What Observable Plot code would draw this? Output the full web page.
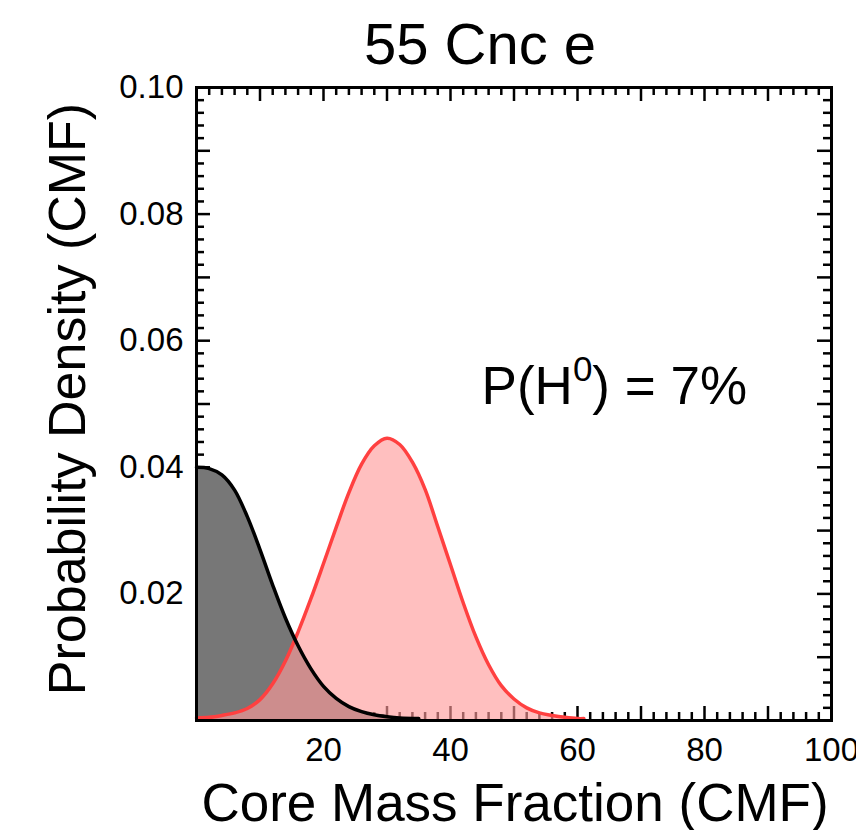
<!DOCTYPE html>
<html>
<head>
<meta charset="utf-8">
<script src="https://cdn.jsdelivr.net/npm/d3@7"></script>
<script src="https://cdn.jsdelivr.net/npm/@observablehq/plot@0.6"></script>
<style>
  html, body { margin: 0; padding: 0; background: #fff; }
  svg { display: block; }
</style>
</head>
<body>
<div id="chart"></div>
<script>
// ---- data ----
const title = "55 Cnc e";
const xLabel = "Core Mass Fraction (CMF)";
const yLabel = "Probability Density (CMF)";
const annotParts = ["P(H", "0", ") = 7%"];
const annotX = 44.9;
const annotY = 0.050;

// black curve (null hypothesis, half-normal-like)
const blackX = [0, 2, 4, 6, 8, 10, 12, 14, 16, 18, 20, 22, 24, 26, 28, 30, 32, 35];
const blackY = [0.0400, 0.0398, 0.0388, 0.0364, 0.0322, 0.0270, 0.0214, 0.0162, 0.0118, 0.0082,
                0.0054, 0.0035, 0.0022, 0.0014, 0.0009, 0.0006, 0.0004, 0.0003];

// red curve (measured CMF distribution)
const redX = [0, 2, 4, 6, 8, 10, 12, 14, 16, 18, 20, 22, 24, 26, 28, 30, 32, 34, 36, 38,
              40, 42, 44, 46, 48, 50, 52, 54, 56, 58, 60, 61];
const redY = [0.0004, 0.0005, 0.0008, 0.0012, 0.0019, 0.0033, 0.0058, 0.0094, 0.0140, 0.0192,
              0.0248, 0.0305, 0.0360, 0.0405, 0.0434, 0.0446, 0.0436, 0.0408, 0.0365, 0.0306,
              0.0246, 0.0186, 0.0132, 0.0088, 0.0055, 0.0034, 0.0020, 0.0012, 0.0008, 0.0005,
              0.0003, 0.0003];

const xTickLabels = [20, 40, 60, 80, 100];
const yTickLabels = [0.02, 0.04, 0.06, 0.08, 0.10];

// ---- build ----
const black = blackX.map((x, i) => ({x, y: blackY[i]}));
const red = redX.map((x, i) => ({x, y: redY[i]}));

const W = 856, H = 830;
const mL = 196, mR = 25, mT = 87, mB = 110;
const plotW = W - mL - mR, plotH = H - mT - mB;

const xMajor = d3.range(0, 100.001, 10);
const xMinor = d3.range(0, 100.001, 2).filter(v => v % 10 !== 0);
const yMajor = d3.range(0, 10.001, 1).map(v => v / 100);
const yMinor = d3.range(0, 50.001, 1).filter(v => v % 5 !== 0).map(v => v / 500);

const majorLen = 14, minorLen = 8, tickW = 2.5;
const font = "'Liberation Sans', Arial, Helvetica, sans-serif";

const svg = Plot.plot({
  width: W,
  height: H,
  marginLeft: mL, marginRight: mR, marginTop: mT, marginBottom: mB,
  style: {fontFamily: font, background: "#fff", color: "#000"},
  x: {domain: [0, 100]},
  y: {domain: [0, 0.1]},
  marks: [
    // inward ticks on all four sides
    Plot.tickX(xMajor, {x: d => d, insetTop: plotH - majorLen, stroke: "#000", strokeWidth: tickW}),
    Plot.tickX(xMajor, {x: d => d, insetBottom: plotH - majorLen, stroke: "#000", strokeWidth: tickW}),
    Plot.tickX(xMinor, {x: d => d, insetTop: plotH - minorLen, stroke: "#000", strokeWidth: tickW}),
    Plot.tickX(xMinor, {x: d => d, insetBottom: plotH - minorLen, stroke: "#000", strokeWidth: tickW}),
    Plot.tickY(yMajor, {y: d => d, insetRight: plotW - majorLen, stroke: "#000", strokeWidth: tickW}),
    Plot.tickY(yMajor, {y: d => d, insetLeft: plotW - majorLen, stroke: "#000", strokeWidth: tickW}),
    Plot.tickY(yMinor, {y: d => d, insetRight: plotW - minorLen, stroke: "#000", strokeWidth: tickW}),
    Plot.tickY(yMinor, {y: d => d, insetLeft: plotW - minorLen, stroke: "#000", strokeWidth: tickW}),

    // filled densities
    Plot.areaY(black, {x: "x", y: "y", fill: "#777777", curve: "catmull-rom"}),
    Plot.areaY(red, {x: "x", y: "y", fill: "rgb(255,153,153)", fillOpacity: 0.63, curve: "catmull-rom"}),
    Plot.line(red, {x: "x", y: "y", stroke: "#ff4040", strokeWidth: 3.5, curve: "catmull-rom"}),
    Plot.line(black, {x: "x", y: "y", stroke: "#000", strokeWidth: 3.5, curve: "catmull-rom"}),

    Plot.frame({stroke: "#000", strokeWidth: 3}),

    // axes (labels only)
    Plot.axisX({ticks: xTickLabels, tickSize: 0, tickPadding: 17, fontSize: 33, label: null}),
    Plot.axisY({ticks: yTickLabels, tickSize: 0, tickPadding: 13, fontSize: 33, tickFormat: d3.format(".2f"), label: null}),

    // titles
    Plot.text([title], {frameAnchor: "top", text: d => d, dy: -24, dx: -34, lineAnchor: "bottom", fontSize: 58, fill: "#000"}),
    Plot.text([xLabel], {frameAnchor: "bottom", text: d => d, dy: 100, dx: 1, lineAnchor: "bottom", fontSize: 53, fill: "#000"}),
    Plot.text([yLabel], {frameAnchor: "left", text: d => d, rotate: -90, textAnchor: "middle", dx: -112, dy: -5, lineAnchor: "bottom", fontSize: 52, fill: "#000"}),

    // annotation
    Plot.text([annotParts.join("")], {x: () => annotX, y: () => annotY, text: d => d, textAnchor: "start", lineAnchor: "bottom", fontSize: 53, fill: "#000"})
  ]
});

// superscript in the annotation
const full = annotParts.join("");
const t = Array.from(svg.querySelectorAll("text")).find(e => e.textContent === full);
if (t) {
  t.textContent = "";
  const ns = "http://www.w3.org/2000/svg";
  const a = document.createElementNS(ns, "tspan");
  a.textContent = annotParts[0];
  const b = document.createElementNS(ns, "tspan");
  b.textContent = annotParts[1];
  b.setAttribute("font-size", "35");
  b.setAttribute("dy", "-23");
  const c = document.createElementNS(ns, "tspan");
  c.textContent = annotParts[2];
  c.setAttribute("dy", "23");
  t.append(a, b, c);
}

document.getElementById("chart").append(svg);
</script>
</body>
</html>
